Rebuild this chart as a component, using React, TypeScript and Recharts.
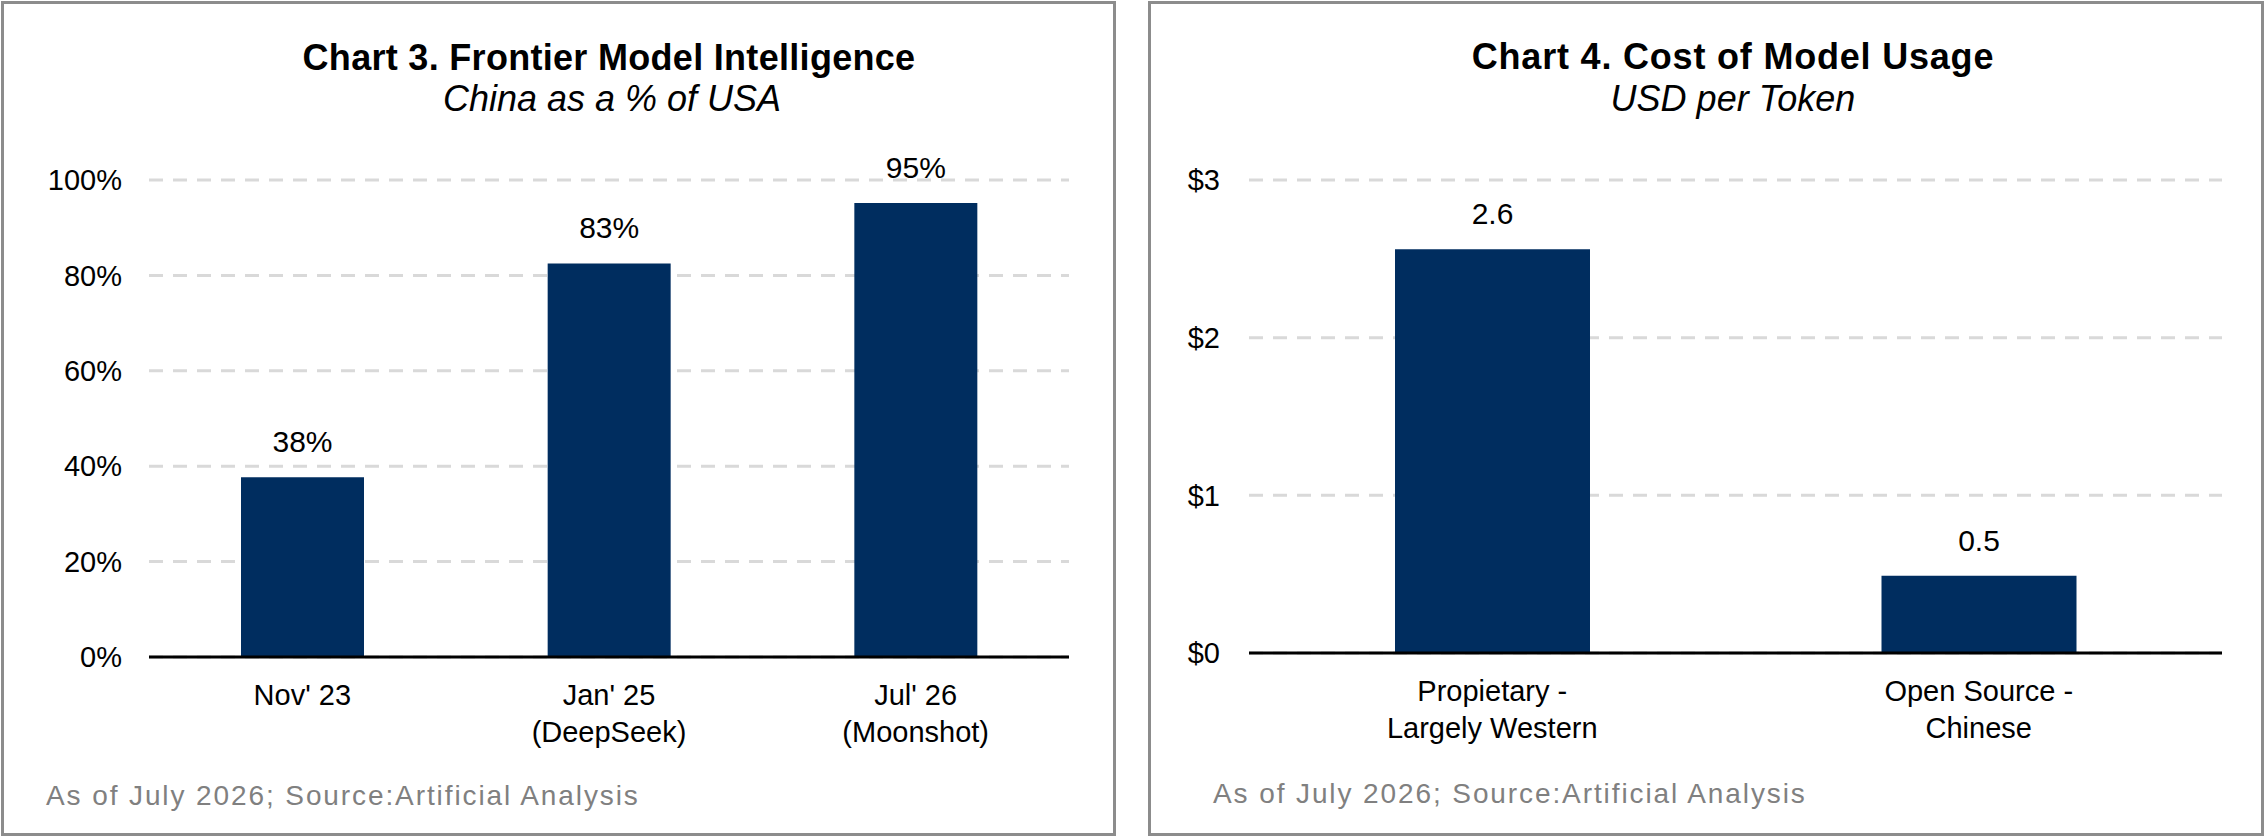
import React from "react";
import { BarChart, Bar, XAxis, YAxis, CartesianGrid, LabelList } from "recharts";

const FONT = '"Liberation Sans", Arial, Helvetica, sans-serif';
const NAVY = "#002d5f";
const GRID = "#d9d9d9";
const FRAME = "#8c8c8c";

// Chart 3: China as a % of USA
const intelCategories = ["Nov' 23", "Jan' 25\n(DeepSeek)", "Jul' 26\n(Moonshot)"];
const intelValues = [37.7, 82.5, 95.2];
const intelTicks = [0, 20, 40, 60, 80, 100];

// Chart 4: USD per token
const costCategories = ["Propietary -\nLargely Western", "Open Source -\nChinese"];
const costValues = [2.56, 0.49];
const costTicks = [0, 1, 2, 3];

const footnote = "As of July 2026; Source:Artificial Analysis";

const intelData = intelCategories.map((name, i) => ({ name, value: intelValues[i] }));
const costData = costCategories.map((name, i) => ({ name, value: costValues[i] }));

function MultiLineTick({ x, y, payload }: any) {
  const lines = String(payload.value).split("\n");
  return (
    <text x={x} y={y} textAnchor="middle" fontFamily={FONT} fontSize={29} fill="#000">
      {lines.map((l, i) => (
        <tspan key={i} x={x} dy={i === 0 ? 48 : 37}>
          {l}
        </tspan>
      ))}
    </text>
  );
}

function makeValueLabel(fmt: (v: number) => string) {
  return (p: any) => {
    const x = Number(p.x) + Number(p.width) / 2;
    const y = Number(p.y) - 25;
    return (
      <text x={x} y={y} textAnchor="middle" fontFamily={FONT} fontSize={30} fill="#000">
        {fmt(Number(p.value))}
      </text>
    );
  };
}

const tickStyle = { fontFamily: FONT, fontSize: 29, fill: "#000" };

export default function App() {
  return (
    <div
      style={{
        position: "absolute",
        left: 0,
        top: 0,
        width: 2265,
        height: 838,
        background: "#fff",
        overflow: "hidden",
      }}
    >
      <div
        style={{
          position: "absolute",
          left: 1,
          top: 1,
          width: 1115,
          height: 835,
          border: `3px solid ${FRAME}`,
          boxSizing: "border-box",
        }}
      />
      <div
        style={{
          position: "absolute",
          left: 1148,
          top: 1,
          width: 1116,
          height: 835,
          border: `3px solid ${FRAME}`,
          boxSizing: "border-box",
        }}
      />

      <div style={{ position: "absolute", left: 0, top: 0 }}>
        <BarChart
          width={1116}
          height={838}
          data={intelData}
          margin={{ top: 180, right: 47, bottom: 81, left: 49 }}
        >
          <CartesianGrid vertical={false} stroke={GRID} strokeWidth={3} strokeDasharray="14 10" />
          <XAxis
            dataKey="name"
            interval={0}
            height={100}
            tickLine={false}
            tickSize={0}
            tickMargin={0}
            axisLine={{ stroke: "#000", strokeWidth: 3 }}
            tick={<MultiLineTick />}
          />
          <YAxis
            width={100}
            domain={[0, 100]}
            ticks={intelTicks}
            axisLine={false}
            tickLine={false}
            tickSize={0}
            tickMargin={27}
            tick={tickStyle}
            tickFormatter={(v) => `${v}%`}
          />
          <Bar dataKey="value" fill={NAVY} barSize={123} isAnimationActive={false}>
            <LabelList dataKey="value" content={makeValueLabel((v) => `${Math.round(v)}%`)} />
          </Bar>
        </BarChart>
      </div>

      <div style={{ position: "absolute", left: 1148, top: 0 }}>
        <BarChart
          width={1117}
          height={838}
          data={costData}
          margin={{ top: 180, right: 43, bottom: 85, left: 41 }}
        >
          <CartesianGrid vertical={false} stroke={GRID} strokeWidth={3} strokeDasharray="14 10" />
          <XAxis
            dataKey="name"
            interval={0}
            height={100}
            tickLine={false}
            tickSize={0}
            tickMargin={0}
            axisLine={{ stroke: "#000", strokeWidth: 3 }}
            tick={<MultiLineTick />}
          />
          <YAxis
            width={60}
            domain={[0, 3]}
            ticks={costTicks}
            axisLine={false}
            tickLine={false}
            tickSize={0}
            tickMargin={29}
            tick={tickStyle}
            tickFormatter={(v) => `$${v}`}
          />
          <Bar dataKey="value" fill={NAVY} barSize={195} isAnimationActive={false}>
            <LabelList dataKey="value" content={makeValueLabel((v) => v.toFixed(1))} />
          </Bar>
        </BarChart>
      </div>

      <svg
        width={2265}
        height={838}
        style={{ position: "absolute", left: 0, top: 0, pointerEvents: "none" }}
      >
        <g fontFamily={FONT} fill="#000" textAnchor="middle">
          <text x={609} y={70} fontSize={36} fontWeight="bold" letterSpacing={0.3}>
            Chart 3. Frontier Model Intelligence
          </text>
          <text x={612} y={111} fontSize={36} fontStyle="italic">
            China as a % of USA
          </text>
          <text x={1733} y={69} fontSize={36} fontWeight="bold" letterSpacing={0.8}>
            Chart 4. Cost of Model Usage
          </text>
          <text x={1733} y={111} fontSize={36} fontStyle="italic">
            USD per Token
          </text>
        </g>
        <g fontFamily={FONT} fill="#808080" fontSize={28} letterSpacing={1.9}>
          <text x={46} y={805}>{footnote}</text>
          <text x={1213} y={803}>{footnote}</text>
        </g>
      </svg>
    </div>
  );
}
